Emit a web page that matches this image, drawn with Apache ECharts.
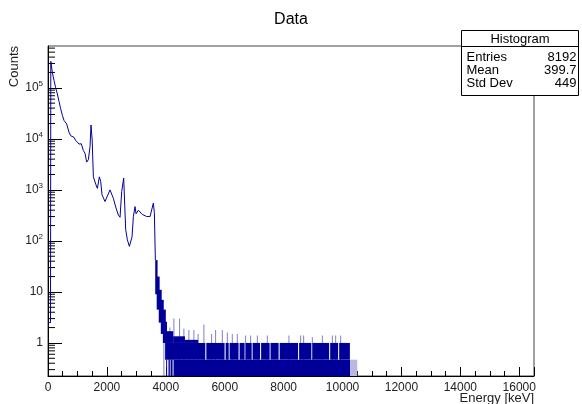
<!DOCTYPE html>
<html>
<head>
<meta charset="utf-8">
<script src="https://cdn.jsdelivr.net/npm/echarts@6/dist/echarts.min.js"></script>
<style>
  html, body { margin: 0; padding: 0; background: #fff; }
  #place { width: 582px; height: 404px; }
</style>
</head>
<body>
<div id="place"></div>
<script>
// smooth part of the spectrum (keV, counts)
const smoothE = [0, 85, 95, 147, 204, 260, 317, 374, 430, 487, 543, 600, 634, 713, 770, 883, 940, 996, 1053, 1132,
  1200, 1257, 1313, 1370, 1427, 1460, 1500, 1540, 1630, 1676, 1744, 1790, 1834, 1936, 1993, 2106, 2163, 2219, 2310, 2389,
  2446, 2502, 2570, 2600, 2638, 2695, 2763, 2808, 2853, 2899, 2955, 2990, 3069, 3103, 3200, 3353, 3465, 3520, 3577, 3611,
  3630, 3645];
const smoothCounts = [2.5, 2.5, 3.3e5, 2.0e5, 1.4e5, 1.0e5, 7.6e4, 5.4e4, 3.9e4, 2.9e4, 2.3e4, 2.35e4, 1.95e4, 1.35e4, 1.15e4, 1.07e4, 9300, 9800, 7900, 8000,
  5900, 5200, 3500, 3900, 7100, 1.87e4, 9500, 1800, 1250, 1070, 1800, 1450, 800, 590, 550, 1000, 930, 680, 440, 320,
  290, 930, 1700, 1600, 166, 105, 78, 72, 120, 300, 470, 340, 400, 370, 330, 300, 300, 320, 550, 355,
  340, 42];

// noisy part: [E0, E1, low, high]  (low 0 = bottom of pad)
const tailBins = [
  [3640, 3720, 9, 42], [3690, 3790, 4.5, 20], [3760, 3860, 2.5, 11], [3830, 3930, 1.5, 7],
  [3900, 4000, 1, 4.5], [3975, 4040, 0.47, 2.6], [4040, 4250, 1, 1.7], [4250, 4650, 1, 1.35], [4650, 5100, 1, 1.15]
];
const lowBins = [[4010, 4040, 0, 0.47], [4090, 4135, 0, 0.47], [4165, 4230, 0, 0.47], [4270, 10260, 0, 0.47]];
const oneBins = [[4040, 5340, 0.47, 1], [5375, 5995, 0.47, 1], [6030, 6135, 0.47, 1], [6165, 6470, 0.47, 1],
  [6505, 6675, 0.47, 1], [6710, 6915, 0.47, 1], [6945, 7200, 0.47, 1], [7235, 7525, 0.47, 1], [7555, 7830, 0.47, 1],
  [7865, 8490, 0.47, 1], [8525, 8940, 0.47, 1], [8975, 9545, 0.47, 1], [9580, 9850, 0.47, 1], [9885, 10250, 0.47, 1]];
const faintBins = [[10260, 10500, 0, 0.47]];

// single bins sticking out: [E, counts]
const spikes = [[3917, 3.0], [4121, 2.0], [4257, 3.0], [4450, 3.0], [4596, 1.9], [4766, 1.8], [4936, 1.8], [5079, 1.5],
  [5276, 2.3], [5537, 1.5], [5673, 1.8], [5901, 1.8], [6071, 1.6], [6240, 1.5], [6410, 1.5], [6692, 1.4], [6862, 1.4],
  [7090, 1.4], [7429, 1.4], [8163, 1.4], [8560, 1.4], [8662, 1.4], [8958, 1.3], [9298, 1.4], [9637, 1.4], [9750, 1.4],
  [9920, 1.4]];

const yTickDecades = [0, 1, 2, 3, 4, 5];
const Y_MIN = 0.225, Y_MAX = 6.6e5, X_MAX = 16500;
const NAVY = '#000099';
const FONT = 'Liberation Sans';

let yMinor = [];
[-1].concat(yTickDecades).forEach(d => {
  for (let m = 2; m <= 9; m++) {
    const v = m * Math.pow(10, d);
    if (v > Y_MIN && v < Y_MAX) yMinor.push([0, v]);
  }
});

function binItem(color) {
  return function (params, api) {
    const lo = api.value(2) > 0 ? api.value(2) : Y_MIN;
    const p0 = api.coord([api.value(0), api.value(3)]);
    const p1 = api.coord([api.value(1), lo]);
    return {
      type: 'rect',
      shape: { x: p0[0], y: p0[1], width: Math.max(1, p1[0] - p0[0]), height: p1[1] - p0[1] },
      style: { fill: color }
    };
  };
}

var myChart = echarts.init(document.getElementById('place'));
myChart.setOption({
  animation: false,
  title: {
    text: 'Data', left: 'center', top: 7,
    textStyle: { fontFamily: FONT, fontSize: 16, fontWeight: 'normal', color: '#000' }
  },
  grid: { left: 48, right: 48, top: 46, bottom: 28, show: true, borderColor: '#444', borderWidth: 1 },
  xAxis: {
    type: 'value', min: 0, max: X_MAX, interval: 2000,
    axisLine: { lineStyle: { color: '#000' } },
    axisTick: { inside: true, length: 9, lineStyle: { color: '#000' } },
    minorTick: { show: true, splitNumber: 4, length: 5, lineStyle: { color: '#000' } },
    splitLine: { show: false },
    axisLabel: {
      showMaxLabel: false, margin: 6, fontFamily: FONT, fontSize: 12, color: '#222',
      formatter: v => String(v)
    }
  },
  yAxis: {
    type: 'log', min: Y_MIN, max: Y_MAX, splitNumber: 8,
    axisLine: { lineStyle: { color: '#000' } },
    axisTick: { inside: true, length: 14, lineStyle: { color: '#000' } },
    splitLine: { show: false },
    axisLabel: {
      showMinLabel: false, showMaxLabel: false, margin: 5,
      fontFamily: FONT, fontSize: 12, color: '#222',
      formatter: function (v) {
        const e = Math.round(Math.log10(v));
        if (e === 0) return '1';
        if (e === 1) return '10';
        return '{b|10}{s|' + e + '}';
      },
      rich: {
        b: { fontFamily: FONT, fontSize: 12, color: '#222' },
        s: { fontFamily: FONT, fontSize: 8, color: '#222', verticalAlign: 'top', padding: [0, 0, 8, 0] }
      }
    }
  },
  graphic: [
    {
      type: 'text', z: 100, x: 14, y: 46, rotation: Math.PI / 2,
      style: { text: 'Counts', font: '13px ' + FONT, fill: '#222', align: 'right', verticalAlign: 'middle' }
    },
    {
      type: 'text', z: 100, x: 534, y: 398,
      style: { text: 'Energy [keV]', font: '13px ' + FONT, fill: '#222', align: 'right', verticalAlign: 'middle' }
    },
    {
      type: 'group', z: 100, x: 461.5, y: 30.5,
      children: [
        { type: 'rect', shape: { x: 0, y: 0, width: 117, height: 65 }, style: { fill: '#fff', stroke: '#000', lineWidth: 1 } },
        { type: 'line', shape: { x1: 0, y1: 16, x2: 117, y2: 16 }, style: { stroke: '#000', lineWidth: 1 } },
        { type: 'text', x: 58.5, y: 8.5, style: { text: 'Histogram', font: '13px ' + FONT, fill: '#000', align: 'center', verticalAlign: 'middle' } },
        { type: 'text', x: 5, y: 26.5, style: { text: 'Entries', font: '13px ' + FONT, fill: '#000', verticalAlign: 'middle' } },
        { type: 'text', x: 115, y: 26.5, style: { text: '8192', font: '13px ' + FONT, fill: '#000', align: 'right', verticalAlign: 'middle' } },
        { type: 'text', x: 5, y: 39.5, style: { text: 'Mean', font: '13px ' + FONT, fill: '#000', verticalAlign: 'middle' } },
        { type: 'text', x: 115, y: 39.5, style: { text: '399.7', font: '13px ' + FONT, fill: '#000', align: 'right', verticalAlign: 'middle' } },
        { type: 'text', x: 5, y: 52.5, style: { text: 'Std Dev', font: '13px ' + FONT, fill: '#000', verticalAlign: 'middle' } },
        { type: 'text', x: 115, y: 52.5, style: { text: '449', font: '13px ' + FONT, fill: '#000', align: 'right', verticalAlign: 'middle' } }
      ]
    }
  ],
  series: [
    {
      type: 'line', name: 'Data', showSymbol: false,
      data: smoothE.map((e, i) => [e, smoothCounts[i]]),
      lineStyle: { color: NAVY, width: 1 }, itemStyle: { color: NAVY }
    },
    {
      type: 'custom', clip: true, renderItem: binItem(NAVY),
      encode: { x: [0, 1], y: 3 },
      data: tailBins.concat(lowBins, oneBins)
    },
    {
      type: 'custom', clip: true, renderItem: binItem('#b8b8e0'),
      encode: { x: [0, 1], y: 3 },
      data: faintBins
    },
    {
      type: 'custom', clip: true,
      encode: { x: 0, y: 1 },
      renderItem: function (params, api) {
        const top = api.coord([api.value(0), api.value(1)]);
        const bot = api.coord([api.value(0), Y_MIN]);
        return { type: 'rect', shape: { x: top[0], y: top[1], width: 1, height: bot[1] - top[1] }, style: { fill: 'rgba(0,0,153,0.5)' } };
      },
      data: spikes
    },
    {
      type: 'custom', clip: false,
      encode: { x: 0, y: 1 },
      renderItem: function (params, api) {
        const p = api.coord([api.value(0), api.value(1)]);
        return { type: 'line', shape: { x1: p[0], y1: p[1], x2: p[0] + 7, y2: p[1] }, style: { stroke: '#000', lineWidth: 1 } };
      },
      data: yMinor
    }
  ]
});
</script>
</body>
</html>
